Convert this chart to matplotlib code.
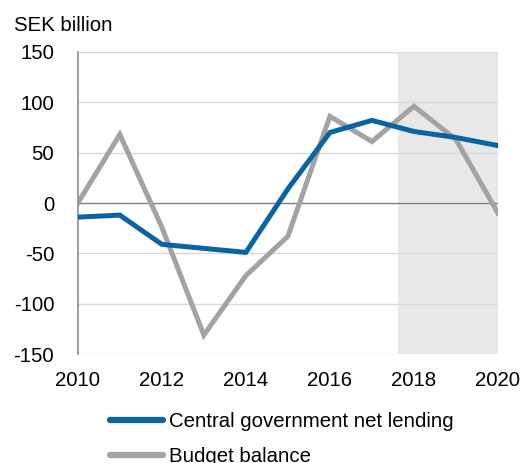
import matplotlib.pyplot as plt
from matplotlib.lines import Line2D

plt.rcParams['font.family'] = ['Liberation Sans', 'DejaVu Sans']
plt.rcParams['axes.unicode_minus'] = False

years = [2010, 2011, 2012, 2013, 2014, 2015, 2016, 2017, 2018, 2019, 2020]
net_lending = [-14, -12, -41, -45, -49, 14, 70, 82, 71, 65, 57]
budget_balance = [0, 68, -24, -131, -72, -33, 86, 61, 96, 63, -10]
y_ticks = [-150, -100, -50, 0, 50, 100, 150]
x_ticks = [2010, 2012, 2014, 2016, 2018, 2020]

blue = '#0a64a4'
grey = '#a3a3a3'
fs = 14.7

fig = plt.figure(figsize=(5.22, 4.63), dpi=100)
ax = fig.add_axes([0.149, 0.235, 0.805, 0.653])

# forecast period
ax.axvspan(2017.62, 2020.02, color='#e8e8e8', lw=0, zorder=0)

for y in y_ticks:
    if y == 0:
        ax.axhline(y, color='#7f7f7f', lw=1.0, zorder=1)
    else:
        ax.axhline(y, color='#d9d9d9', lw=1.0, zorder=1)

ax.plot(years, net_lending, color=blue, lw=3.6, solid_joinstyle='miter', zorder=3)
ax.plot(years, budget_balance, color=grey, lw=3.6, solid_joinstyle='miter', zorder=2)

ax.set_xlim(2010, 2020)
ax.set_ylim(-150, 150)
ax.set_yticks(y_ticks)
ax.set_xticks(x_ticks)
ax.tick_params(length=0, labelsize=fs, colors='black')
ax.tick_params(axis='x', pad=12)
ax.tick_params(axis='y', pad=17)
for s in ['top', 'right', 'bottom']:
    ax.spines[s].set_visible(False)
ax.spines['left'].set_color('#8c8c8c')
ax.spines['left'].set_linewidth(1.2)

fig.text(0.027, 0.945, 'SEK billion', fontsize=fs, va='center', ha='left')

handles = [Line2D([], [], color=blue, lw=4.5, solid_capstyle='round'),
           Line2D([], [], color=grey, lw=4.5, solid_capstyle='round')]
fig.legend(handles, ['Central government net lending', 'Budget balance'],
           loc='upper left', bbox_to_anchor=(0.21, 0.11), frameon=False,
           fontsize=fs, handlelength=2.6, handletextpad=0.3, labelspacing=0.8,
           borderpad=0, borderaxespad=0)

fig.savefig('out.png', dpi=100)
